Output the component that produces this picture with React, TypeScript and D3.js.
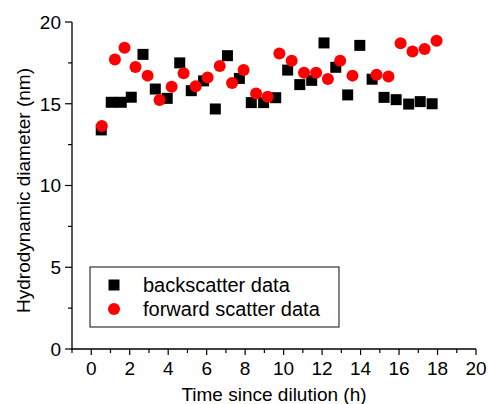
import React from "react";
import * as d3 from "d3";

const backTime = [0.52, 1.04, 1.56, 2.08, 2.69, 3.33, 3.95, 4.6, 5.2, 5.84, 6.45, 7.08, 7.7, 8.32, 8.96, 9.59, 10.21, 10.84, 11.46, 12.1, 12.71, 13.33, 13.96, 14.6, 15.22, 15.85, 16.5, 17.1, 17.72];
const backSize = [13.4, 15.09, 15.09, 15.4, 18.02, 15.9, 15.33, 17.5, 15.8, 16.4, 14.68, 17.94, 16.55, 15.07, 15.07, 15.37, 17.06, 16.17, 16.43, 18.72, 17.23, 15.54, 18.57, 16.5, 15.39, 15.25, 14.98, 15.13, 15.0];
const fwdTime = [0.55, 1.23, 1.73, 2.3, 2.93, 3.55, 4.18, 4.8, 5.43, 6.05, 6.68, 7.32, 7.92, 8.57, 9.17, 9.78, 10.42, 11.06, 11.69, 12.3, 12.94, 13.58, 14.83, 15.45, 16.08, 16.7, 17.33, 17.95];
const fwdSize = [13.64, 17.7, 18.43, 17.25, 16.72, 15.23, 16.04, 16.86, 16.07, 16.6, 17.31, 16.27, 17.06, 15.62, 15.43, 18.08, 17.63, 16.9, 16.9, 16.51, 17.63, 16.72, 16.78, 16.66, 18.7, 18.2, 18.35, 18.86];
const xTicks = [0, 2, 4, 6, 8, 10, 12, 14, 16, 18, 20];
const yTicks = [0, 5, 10, 15, 20];
const legendLabels = ["backscatter data", "forward scatter data"];

const FONT = "'Liberation Sans', Arial, sans-serif";

export default function App() {
  const W = 488, H = 404;
  const x = d3.scaleLinear().domain([-1, 20]).range([72, 476]);
  const y = d3.scaleLinear().domain([0, 20]).range([349, 22]);
  const xMinor = d3.range(-1, 21, 1).filter((v) => v % 2 !== 0);
  const yMinor = [2.5, 7.5, 12.5, 17.5];
  const sq = 11;
  const fs = 19;
  return (
    <svg width={W} height={H} style={{ position: "absolute", left: 0, top: 0 }} fontFamily={FONT}>
      <rect width={W} height={H} fill="#fff" />
      {/* axes */}
      <line x1={72} x2={72} y1={y(20)} y2={349.5} stroke="#000" strokeWidth={1.3} />
      <line x1={71.5} x2={476} y1={349} y2={349} stroke="#000" strokeWidth={1.3} />
      {yTicks.map((t) => (
        <g key={"yt" + t}>
          <line x1={65} x2={72} y1={y(t)} y2={y(t)} stroke="#000" strokeWidth={1.2} />
          <text x={61} y={y(t) + 6.8} textAnchor="end" fontSize={fs}>{t}</text>
        </g>
      ))}
      {yMinor.map((t) => (
        <line key={"ym" + t} x1={68} x2={72} y1={y(t)} y2={y(t)} stroke="#000" strokeWidth={1.2} />
      ))}
      {xTicks.map((t) => (
        <g key={"xt" + t}>
          <line x1={x(t)} x2={x(t)} y1={349} y2={355} stroke="#000" strokeWidth={1.2} />
          <text x={x(t)} y={375} textAnchor="middle" fontSize={fs}>{t}</text>
        </g>
      ))}
      {xMinor.map((t) => (
        <line key={"xm" + t} x1={x(t)} x2={x(t)} y1={349} y2={353} stroke="#000" strokeWidth={1.2} />
      ))}
      <text x={x(9.5)} y={400.5} textAnchor="middle" fontSize={fs}>Time since dilution (h)</text>
      <text transform={`translate(30,${y(10) + 5}) rotate(-90)`} textAnchor="middle" fontSize={fs}>Hydrodynamic diameter (nm)</text>
      {/* data */}
      {backTime.map((t, i) => (
        <rect key={"b" + i} x={x(t) - sq / 2} y={y(backSize[i]) - sq / 2} width={sq} height={sq} fill="#000" />
      ))}
      {fwdTime.map((t, i) => (
        <circle key={"f" + i} cx={x(t)} cy={y(fwdSize[i])} r={6} fill="#ff0000" />
      ))}
      {/* legend */}
      <rect x={90} y={267} width={249} height={60} fill="#fff" stroke="#333" strokeWidth={1.2} />
      <rect x={114 - 5.5} y={285 - 5.5} width={11} height={11} fill="#000" />
      <circle cx={114} cy={309} r={6} fill="#ff0000" />
      <text x={143} y={292} fontSize={20}>{legendLabels[0]}</text>
      <text x={143} y={316} fontSize={20}>{legendLabels[1]}</text>
    </svg>
  );
}
